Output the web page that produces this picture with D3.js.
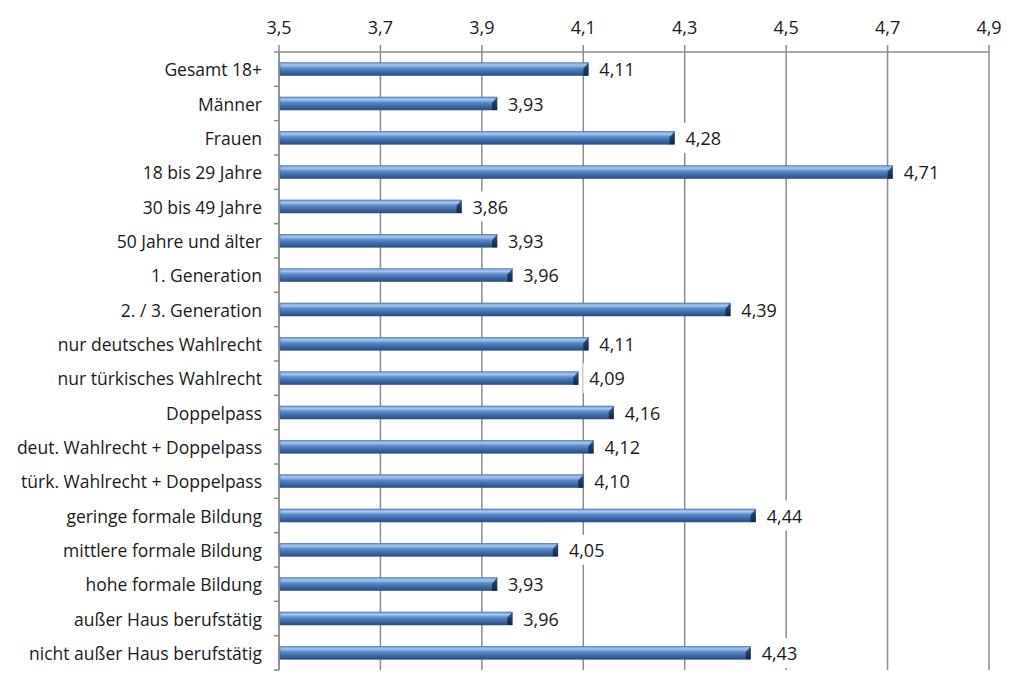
<!DOCTYPE html>
<html><head><meta charset="utf-8">
<script src="https://cdn.jsdelivr.net/npm/d3@7"></script>
<style>body{margin:0;background:#fff}svg{display:block}text{font-family:"Open Sans",sans-serif;fill:#1a1a1a}</style>
</head><body>
<svg id="c" width="1024" height="695"></svg>
<script>
const categories = ["Gesamt 18+","Männer","Frauen","18 bis 29 Jahre","30 bis 49 Jahre","50 Jahre und älter","1. Generation","2. / 3. Generation","nur deutsches Wahlrecht","nur türkisches Wahlrecht","Doppelpass","deut. Wahlrecht + Doppelpass","türk. Wahlrecht + Doppelpass","geringe formale Bildung","mittlere formale Bildung","hohe formale Bildung","außer Haus berufstätig","nicht außer Haus berufstätig"];
const values = [4.11,3.93,4.28,4.71,3.86,3.93,3.96,4.39,4.11,4.09,4.16,4.12,4.10,4.44,4.05,3.93,3.96,4.43];
const tickValues = [3.5,3.7,3.9,4.1,4.3,4.5,4.7,4.9];

const svg = d3.select("#c");
const L = 279, R = 989, T = 52, B = 670;
const x = d3.scaleLinear().domain([3.5,4.9]).range([L,R]);
const y = d3.scaleBand().domain(categories).range([T,B]).paddingInner(0.62).paddingOuter(0.31);
const fmt = v => d3.format(".2f")(v).replace(".",",");
const fmtT = v => d3.format(".1f")(v).replace(".",",");

const defs = svg.append("defs");
const g = defs.append("linearGradient").attr("id","bar").attr("x1",0).attr("y1",0).attr("x2",0).attr("y2",1);
[[0,"#6b97cf"],[0.2,"#a8c6ee"],[0.42,"#5b8ccb"],[0.7,"#3f6aa6"],[1,"#2a4c80"]].forEach(s=>g.append("stop").attr("offset",s[0]).attr("stop-color",s[1]));
const ge = defs.append("linearGradient").attr("id","end").attr("x1",0).attr("y1",0).attr("x2",0).attr("y2",1);
[[0,"#3a5f94"],[0.5,"#1f3a63"],[1,"#13284a"]].forEach(s=>ge.append("stop").attr("offset",s[0]).attr("stop-color",s[1]));

svg.append("g").selectAll("line").data(tickValues).join("line")
  .attr("x1",d=>x(d)).attr("x2",d=>x(d)).attr("y1",T-7).attr("y2",B)
  .attr("stroke","#8c8c8c").attr("stroke-width",1.5);
svg.append("line").attr("x1",L).attr("x2",R).attr("y1",T).attr("y2",T).attr("stroke","#8c8c8c").attr("stroke-width",1.5);
svg.append("g").selectAll("text").data(tickValues).join("text")
  .attr("x",d=>x(d)).attr("y",T-18).attr("text-anchor","middle").attr("font-size",18).text(fmtT);
svg.append("line").attr("x1",L).attr("x2",L).attr("y1",T).attr("y2",B).attr("stroke","#8c8c8c").attr("stroke-width",1.5);
const step = (B-T)/categories.length;
svg.append("g").selectAll("line").data(d3.range(categories.length+1)).join("line")
  .attr("x1",L-5).attr("x2",L).attr("y1",i=>T+i*step).attr("y2",i=>T+i*step)
  .attr("stroke","#8c8c8c").attr("stroke-width",1.5);

const bars = svg.append("g").selectAll("g").data(categories).join("g");
bars.append("rect").attr("x",x(3.5)+1).attr("y",d=>y(d)).attr("height",y.bandwidth())
  .attr("width",(d,i)=>x(values[i])-x(3.5)-1).attr("fill","url(#bar)").attr("stroke","#3c6298").attr("stroke-width",0.5);
bars.append("path").attr("d",(d,i)=>{const xe=x(values[i]),y0=y(d),h=y.bandwidth();return `M${xe-5},${y0+h*0.45}L${xe},${y0}L${xe},${y0+h}L${xe-5},${y0+h}Z`;})
  .attr("fill","url(#end)");
const bg = bars.append("rect").attr("fill","#fff");
const vt = bars.append("text").attr("x",(d,i)=>x(values[i])+11).attr("y",d=>y(d)+y.bandwidth()/2+7)
  .attr("font-size",18).text((d,i)=>fmt(values[i]));
bg.each(function(d,i){
  const w = vt.nodes()[i].getComputedTextLength();
  const cy = y(d)+y.bandwidth()/2;
  d3.select(this).attr("x",x(values[i])+5).attr("width",w+12).attr("y",cy-15).attr("height",30);
});
svg.append("g").selectAll("text").data(categories).join("text")
  .attr("x",262).attr("y",d=>y(d)+y.bandwidth()/2+7).attr("text-anchor","end").attr("font-size",17.5).text(d=>d);
</script>
</body></html>
